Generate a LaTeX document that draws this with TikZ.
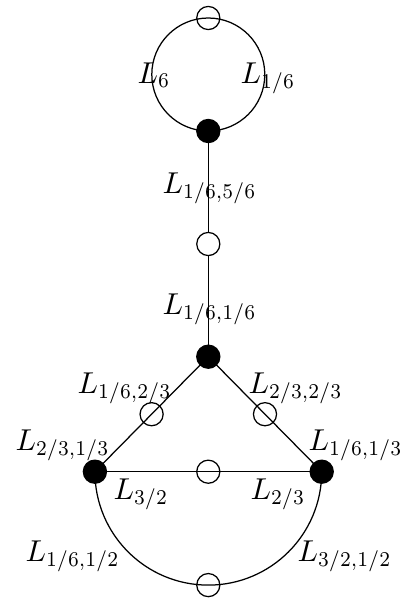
\documentclass[tikz,border=0pt]{standalone}
\usepackage{graphicx}
\newcommand{\sbx}[1]{\scalebox{0.9}[1]{$\scriptstyle #1$}}
\begin{document}
\begin{tikzpicture}[x=0.32pt,y=-0.32pt,
  blk/.style={circle,fill=black,draw=black,minimum size=7.4pt,inner sep=0pt},
  wht/.style={circle,draw=black,fill=none,minimum size=7.4pt,inner sep=0pt},
  lbl/.style={anchor=base west,inner sep=0pt,scale=0.965}]
\useasboundingbox (0,0) rectangle (409,599);
% nodes
\node[wht] (w1) at (208.3,18) {};
\node[blk] (b1) at (208.3,131) {};
\node[wht] (w2) at (208.3,244) {};
\node[blk] (b2) at (208.3,356.7) {};
\node[blk] (bl) at (94.9,471.7) {};
\node[blk] (br) at (321.7,471.7) {};
\node[wht] (wl) at (151.6,414.2) {};
\node[wht] (wr) at (265,414.2) {};
\node[wht] (wm) at (208.3,471.7) {};
\node[wht] (wb) at (208.3,585.1) {};
% connectors
\draw (w1.center) arc[start angle=90,end angle=450,radius=18.08pt];
\draw (b1) -- (w2) -- (b2);
\draw (b2.center) -- (bl.center);
\draw (b2.center) -- (br.center);
\draw (bl.center) -- (br.center);
\draw (bl.center) arc[start angle=180,end angle=360,radius=36.29pt];
% labels
\node[lbl] (t1) at (137,83) {$L_{\sbx{6}}$};
\node[lbl] (t2) at (240,83) {$L_{\sbx{1/6}}$};
\node[lbl] (t3) at (162,193) {$L_{\sbx{1/6,5/6}}$};
\node[lbl] (t4) at (162,314) {$L_{\sbx{1/6,1/6}}$};
\node[lbl] (t5) at (77,393) {$L_{\sbx{1/6,2/3}}$};
\node[lbl] (t6) at (248,393) {$L_{\sbx{2/3,2/3}}$};
\node[lbl] (t7) at (15,450) {$L_{\sbx{2/3,1/3}}$};
\node[lbl] (t8) at (308,450) {$L_{\sbx{1/6,1/3}}$};
\node[lbl] (t9) at (113,499) {$L_{\sbx{3/2}}$};
\node[lbl] (t10) at (250,499) {$L_{\sbx{2/3}}$};
\node[lbl] (t11) at (25,561) {$L_{\sbx{1/6,1/2}}$};
\node[lbl] (t12) at (297,561) {$L_{\sbx{3/2,1/2}}$};
\end{tikzpicture}
\end{document}
